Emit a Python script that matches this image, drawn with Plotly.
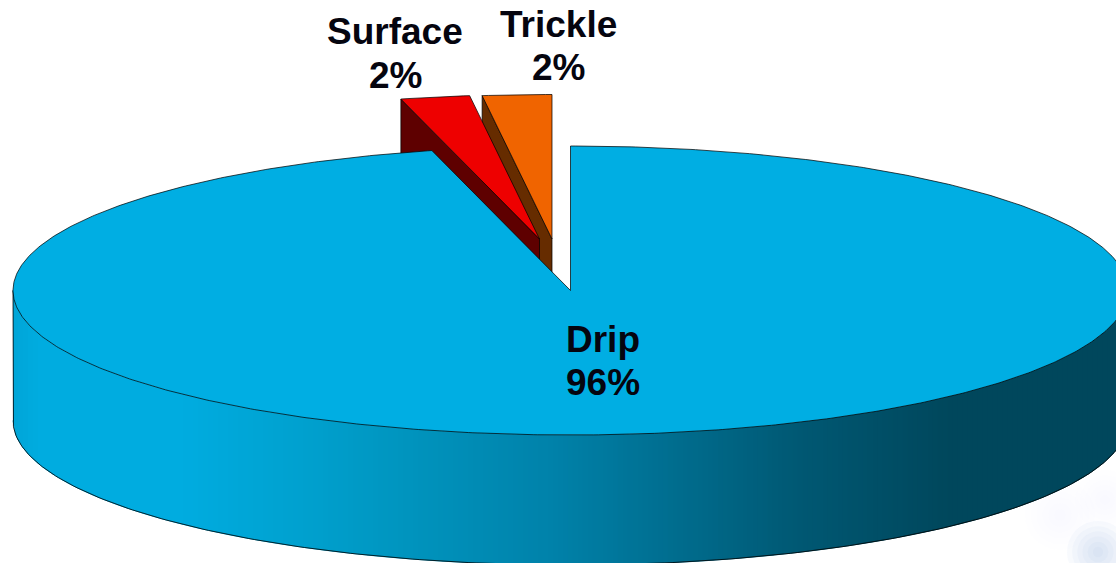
import numpy as np
import plotly.graph_objects as go

# --- data ---
categories = ["Drip", "Surface", "Trickle"]
values = [96, 2, 2]

# --- styling / layout constants ---
W, H = 1116, 563
CX, CY, RX, RY, DEPTH = 570.5, 290.5, 557.5, 144.5, 130.0
OFFSET = {"Surface": (-31.0, -51.5), "Trickle": (-18.5, -51.5)}
TOP = {"Drip": "#00AEE3", "Surface": "#EE0000", "Trickle": "#F06400"}
SIDE = {"Surface": "#5E0000", "Trickle": "#662C00"}
EDGE = "rgba(0,0,0,0.8)"
LABELS = {"Drip": (603, 339.5, 382.5), "Surface": (395, 31, 75), "Trickle": (558, 24, 67)}
GRAD_X = [13, 40, 180, 300, 400, 550, 800, 950, 1116]
GRAD_RGB = [(0, 165, 215), (0, 172, 224), (0, 172, 224), (0, 161, 207), (0, 149, 191),
            (0, 130, 170), (0, 88, 115), (0, 71, 92), (0, 71, 92)]


def ell(theta_deg, dx=0.0, dy=0.0):
    t = np.radians(np.asarray(theta_deg, dtype=float))
    return CX + RX * np.sin(t) + dx, CY - RY * np.cos(t) + dy


fig = go.Figure()


def poly(x, y, fill, line=None, width=0.9):
    fig.add_trace(go.Scatter(
        x=list(x), y=list(y), mode="lines", fill="toself", fillcolor=fill,
        line=dict(color=line or fill, width=width), hoverinfo="skip", showlegend=False))


# faint soft watermark, bottom right
for bx, by, big, alpha in [(1098, 552, 62, 0.07), (1060, 515, 70, 0.012), (1105, 500, 60, 0.012)]:
    for k in range(6):
        fig.add_trace(go.Scatter(
            x=[bx], y=[by], mode="markers", hoverinfo="skip", showlegend=False,
            marker=dict(size=big * (1 - k / 6), color=f"rgba(150,185,225,{alpha})", line=dict(width=0))))

# side wall of the main slice, as shaded vertical strips
x_edges = np.arange(CX - RX, W + 6, 5.0)
for a, b in zip(x_edges[:-1], x_edges[1:]):
    xs = np.linspace(a, b, 3)
    u = np.clip((xs - CX) / RX, -1, 1)
    ytop = CY + RY * np.sqrt(1 - u ** 2)
    mid = (a + b) / 2
    rgb = [np.interp(mid, GRAD_X, [c[i] for c in GRAD_RGB]) for i in range(3)]
    col = "rgb(%d,%d,%d)" % tuple(int(round(v)) for v in rgb)
    poly(np.r_[xs, xs[::-1]], np.r_[ytop, (ytop + DEPTH)[::-1]], col, width=1)

# outline of the wall
th = np.linspace(-90, -270, 241)
ox, oy = ell(th)
fig.add_trace(go.Scatter(
    x=np.r_[ox[0], ox], y=np.r_[oy[0], oy + DEPTH],
    mode="lines", line=dict(color=EDGE, width=1), hoverinfo="skip", showlegend=False))

# angles from values (clockwise from 12 o'clock)
total = sum(values)
start = {}
acc = 0.0
for c, v in zip(categories, values):
    start[c] = (acc, acc + 360.0 * v / total)
    acc += 360.0 * v / total

# exploded wedges: Trickle behind Surface
for c in ["Trickle", "Surface"]:
    a0, a1 = start[c]
    dx, dy = OFFSET[c]
    arc = np.linspace(a0, a1, 12)
    ax, ay = ell(arc, dx, dy)
    tx, ty = CX + dx, CY + dy
    poly([ax[0], tx, tx, ax[0], ax[0]], [ay[0], ty, ty + DEPTH, ay[0] + DEPTH, ay[0]], SIDE[c], EDGE)
    poly(np.r_[tx, ax, tx], np.r_[ty, ay, ty], TOP[c], EDGE)

# main slice top
a0, a1 = start["Drip"]
ax, ay = ell(np.linspace(a0, a1, 721))
poly(np.r_[CX, ax, CX], np.r_[CY, ay, CY], TOP["Drip"], EDGE)

annotations = []
for c, v in zip(categories, values):
    lx, y1, y2 = LABELS[c]
    for txt, ly in ((c, y1), (f"{v}%", y2)):
        annotations.append(dict(x=lx, y=ly, text=f"<b>{txt}</b>", showarrow=False,
                                xanchor="center", yanchor="middle",
                                font=dict(family="Liberation Sans, Arial, sans-serif", size=37, color="#05050f"),
                                xref="x", yref="y"))

fig.update_layout(
    width=W, height=H, margin=dict(l=0, r=0, t=0, b=0),
    paper_bgcolor="white", plot_bgcolor="white", showlegend=False,
    xaxis=dict(range=[0, W], visible=False, fixedrange=True),
    yaxis=dict(range=[H, 0], visible=False, fixedrange=True),
    annotations=annotations,
)
fig.write_html("out.html", config={"displayModeBar": False},
               post_script="document.body.style.margin='0';document.body.style.overflow='hidden';")
